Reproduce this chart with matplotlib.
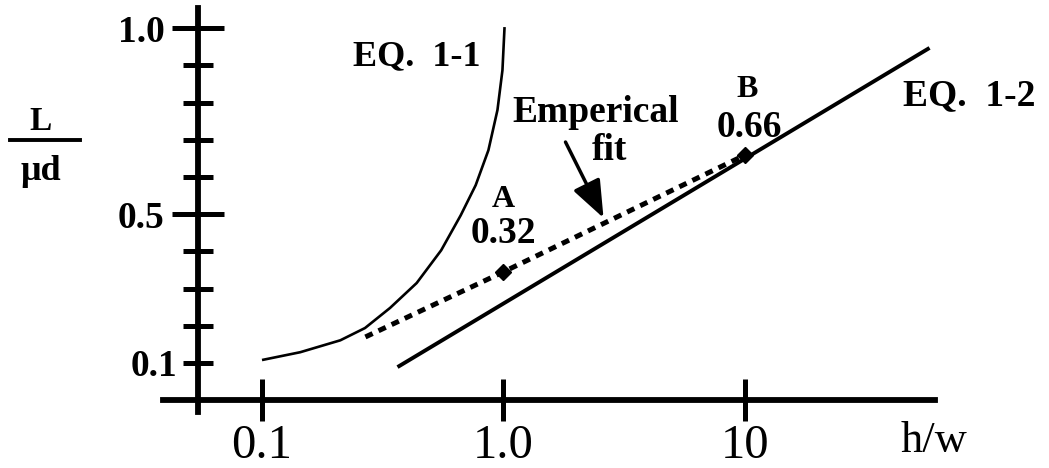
import matplotlib
matplotlib.use("Agg")
import matplotlib.pyplot as plt
from matplotlib.ticker import FixedLocator, FixedFormatter, NullFormatter
from matplotlib.lines import Line2D

# ---- data ----
eq11_x = [0.100, 0.144, 0.211, 0.267, 0.339, 0.437, 0.552, 0.665, 0.767, 0.866, 0.944, 0.990, 1.01]
eq11_y = [0.108, 0.129, 0.161, 0.194, 0.248, 0.315, 0.403, 0.497, 0.578, 0.672, 0.780, 0.887, 1.003]
eq12_x = [0.364, 58.1]
eq12_y = [0.089, 0.947]
fit_x = [0.268, 1.0, 10.0]
fit_y = [0.170, 0.345, 0.659]
pts_x = [1.0, 10.0]
pts_y = [0.345, 0.659]
x_ticks = [0.1, 1.0, 10.0]
x_ticklabels = ["0.1", "1.0", "10"]
y_major = [0.5, 1.0]
y_major_labels = ["0.5", "1.0"]
y_minor = [0.1, 0.2, 0.3, 0.4, 0.6, 0.7, 0.8, 0.9]
y_minor_labels = ["0.1", "", "", "", "", "", "", ""]

SERIF = ["Liberation Serif", "DejaVu Serif"]

fig = plt.figure(figsize=(10.49, 4.68), dpi=100)
W, H = 1049, 468
ax = fig.add_axes([163 / W, (H - 412) / H, (935 - 163) / W, (412 - 8) / H])
ax.set_xscale("log")
ax.set_xlim(10 ** (-1 - 99 / 241.5), 10 ** (1 + 190 / 241.5))
ax.set_ylim(0.1 - 49 / 372, 0.1 + 355 / 372)
ax.patch.set_visible(False)

for s in ["top", "right"]:
    ax.spines[s].set_visible(False)
ax.spines["left"].set_position(("data", 10 ** (-1 - 64 / 241.5)))
ax.spines["bottom"].set_position(("data", 0.0))
ax.spines["left"].set_linewidth(4.2)
ax.spines["bottom"].set_linewidth(4.2)

ax.xaxis.set_major_locator(FixedLocator(x_ticks))
ax.xaxis.set_major_formatter(FixedFormatter(x_ticklabels))
ax.xaxis.set_minor_locator(FixedLocator([]))
ax.xaxis.set_minor_formatter(NullFormatter())
ax.tick_params(axis="x", which="major", direction="inout", length=30, width=3.6, pad=2,
               labelsize=35)
for t in ax.get_xticklabels():
    t.set_family(SERIF)

ax.yaxis.set_major_locator(FixedLocator(y_major))
ax.yaxis.set_major_formatter(FixedFormatter(y_major_labels))
ax.yaxis.set_minor_locator(FixedLocator(y_minor))
ax.yaxis.set_minor_formatter(FixedFormatter(y_minor_labels))
ax.tick_params(axis="y", which="major", direction="inout", length=38, width=3.6, pad=5,
               labelsize=27)
ax.tick_params(axis="y", which="minor", direction="inout", length=21, width=3.6, pad=4,
               labelsize=27)
for t in ax.get_yticklabels(which="both"):
    t.set_family(SERIF)
    t.set_fontweight("bold")

# ---- curves ----
ax.plot(eq11_x, eq11_y, color="black", lw=1.9, solid_capstyle="butt", clip_on=False)
ax.plot(eq12_x, eq12_y, color="black", lw=2.8, solid_capstyle="butt", clip_on=False)
ax.plot(fit_x, fit_y, color="black", lw=3.6, linestyle=(0, (1.6, 1.3)), clip_on=False)
ax.plot(pts_x, pts_y, linestyle="none", marker="D", ms=8, color="black", clip_on=False)

# ---- arrow ----
ax.annotate("", xy=(2.595, 0.49), xytext=(1.806, 0.694),
            arrowprops=dict(arrowstyle="-|>,head_length=1.15,head_width=0.45",
                            mutation_scale=20, lw=2.5, color="black",
                            shrinkA=0, shrinkB=0))

# ---- text ----
tb = dict(family=SERIF, fontweight="bold", color="black")
ax.text(0.237, 0.901, "EQ.  1-1", fontsize=26, ha="left", va="baseline", **tb)
ax.text(45.3, 0.794, "EQ.  1-2", fontsize=27, ha="left", va="baseline", **tb)
ax.text(1.09, 0.748, "Emperical", fontsize=27, ha="left", va="baseline", **tb)
ax.text(2.75, 0.646, "fit", fontsize=27, ha="center", va="baseline", **tb)
ax.text(1.0, 0.519, "A", fontsize=23, ha="center", va="baseline", **tb)
ax.text(1.0, 0.423, "0.32", fontsize=27, ha="center", va="baseline", **tb)
ax.text(10.2, 0.815, "B", fontsize=23, ha="center", va="baseline", **tb)
ax.text(10.4, 0.707, "0.66", fontsize=27, ha="center", va="baseline", **tb)
ax.text(44.0, -0.139, "h/w", fontsize=32, ha="left", va="baseline",
        family=SERIF, color="black", clip_on=False)

# y label as a fraction
fig.text(41 / W, (H - 130) / H, "L", fontsize=24, ha="center", va="baseline", **tb)
fig.text(41 / W, (H - 180) / H, "\u03bcd", fontsize=26, ha="center", va="baseline", **tb)
fig.add_artist(Line2D([10 / W, 80 / W], [(H - 140) / H, (H - 140) / H],
                      transform=fig.transFigure, color="black", lw=2.8))

fig.savefig("out.png", dpi=100)
